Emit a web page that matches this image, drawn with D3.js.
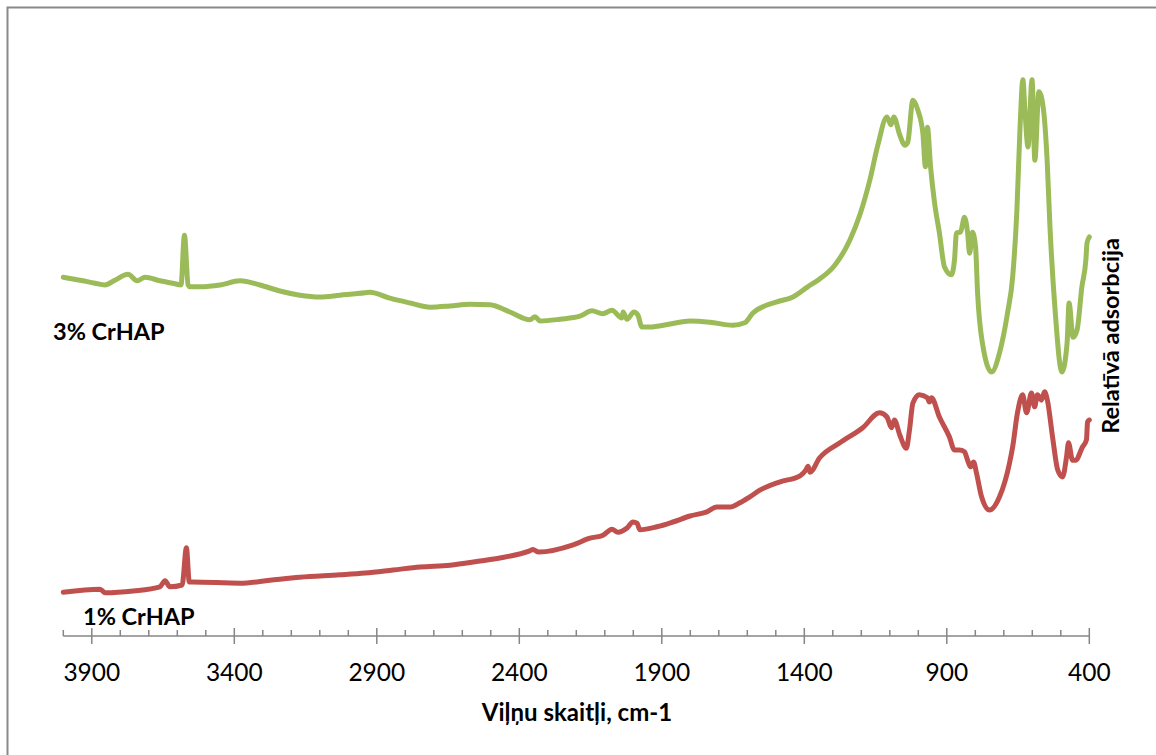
<!DOCTYPE html>
<html>
<head>
<meta charset="utf-8">
<script src="https://cdn.jsdelivr.net/npm/d3@7"></script>
<style>
  body { margin: 0; background: #fff; }
  svg { display: block; font-family: Lato, "Open Sans", sans-serif; }
</style>
</head>
<body>
<div id="app"></div>
<script>
// FTIR spectra, wavenumber (cm-1) vs relative absorbance (arbitrary units)
const wave3 = [4000, 3941, 3889, 3854, 3819, 3773, 3741, 3713, 3661, 3608, 3587, 3575, 3562, 3555, 3519,
  3450, 3380, 3310, 3240, 3170, 3099, 3029, 2941, 2924, 2854, 2783, 2713, 2643, 2573, 2503, 2433, 2363,
  2345, 2327, 2257, 2187, 2145, 2107, 2075, 2040, 2036, 2022, 1998, 1984, 1970, 1942, 1871, 1801, 1731,
  1651, 1609, 1581, 1496, 1440, 1388, 1346, 1293, 1240, 1205, 1170, 1142, 1110, 1096, 1086, 1065, 1047,
  1037, 1019, 1002, 984, 975, 968, 957, 943, 926, 908, 884, 873, 866, 852, 838, 827, 820, 810, 799, 792,
  775, 743, 715, 687, 669, 654, 643, 633, 626, 615, 601, 591, 577, 562, 548, 538, 520, 496, 478, 471, 457,
  443, 426, 412, 408, 400];
const abs3 = [59.8, 59.3, 58.8, 58.5, 59.3, 60.3, 59.2, 59.8, 59.2, 58.7, 58.5, 66.8, 58.5, 58.2, 58.2,
  58.5, 59.2, 58.5, 57.5, 56.8, 56.5, 56.8, 57.2, 57.3, 56.3, 55.5, 54.8, 55.0, 55.3, 55.2, 54.0, 52.7,
  53.2, 52.5, 52.8, 53.3, 54.2, 53.7, 54.3, 53.0, 54.0, 52.8, 54.0, 53.5, 51.5, 51.5, 52.0, 52.5, 52.3,
  51.8, 52.2, 53.8, 55.7, 56.5, 58.2, 59.5, 61.8, 66.0, 70.2, 76.0, 81.8, 86.5, 85.2, 86.5, 83.5, 81.8,
  82.3, 89.3, 87.7, 83.8, 78.2, 84.8, 78.2, 72.2, 67.2, 61.5, 60.2, 62.7, 67.2, 67.3, 69.8, 67.2, 63.8,
  67.3, 64.8, 57.2, 48.8, 44.0, 47.2, 53.8, 59.8, 71.0, 84.8, 92.7, 87.7, 81.5, 92.7, 79.3, 90.7, 88.2,
  79.3, 68.2, 54.3, 44.0, 48.8, 55.5, 49.8, 51.0, 58.2, 62.7, 65.5, 66.5];

const wave1 = [4000, 3871, 3853, 3755, 3661, 3643, 3626, 3583, 3568, 3558, 3548, 3380, 3275, 3170, 3029,
  2941, 2843, 2748, 2643, 2538, 2468, 2363, 2352, 2332, 2211, 2152, 2106, 2075, 2054, 2022, 2001, 1987,
  1977, 1917, 1861, 1801, 1742, 1707, 1661, 1626, 1591, 1556, 1485, 1415, 1394, 1387, 1380, 1346, 1275,
  1195, 1136, 1110, 1094, 1084, 1065, 1042, 1031, 1019, 996, 968, 961, 954, 926, 891, 873, 856, 838, 827,
  817, 806, 796, 778, 750, 715, 680, 669, 652, 634, 620, 603, 592, 582, 568, 557, 547, 529, 511, 494, 480,
  473, 459, 448, 424, 410, 406, 400];
const abs1 = [7.3, 7.8, 7.2, 7.5, 8.2, 9.2, 8.2, 8.5, 14.7, 9.0, 9.0, 8.8, 9.3, 9.8, 10.2,
  10.5, 11.0, 11.5, 11.8, 12.5, 13.0, 14.2, 14.4, 14.0, 15.2, 16.3, 16.8, 17.8, 17.3, 18.0, 19.0, 18.8,
  17.7, 18.2, 19.0, 20.0, 20.7, 21.5, 21.5, 22.2, 23.2, 24.3, 25.7, 26.7, 27.7, 28.3, 27.3, 29.7, 32.2,
  34.7, 37.2, 36.5, 34.7, 36.0, 33.5, 31.3, 34.3, 38.8, 40.2, 39.7, 39.0, 39.7, 36.5, 33.2, 31.0, 31.0,
  30.7, 29.3, 28.2, 29.0, 27.2, 23.2, 21.0, 23.2, 28.8, 31.5, 37.2, 40.2, 37.2, 40.5, 38.2, 40.2, 39.3,
  40.7, 39.3, 33.2, 27.7, 26.5, 29.8, 32.2, 29.3, 29.3, 31.5, 32.7, 35.7, 36.0];

const xTicks = [3900, 3400, 2900, 2400, 1900, 1400, 900, 400];
const series = [
  { name: "3% CrHAP", wave: wave3, abs: abs3, color: "#9bbb59" },
  { name: "1% CrHAP", wave: wave1, abs: abs1, color: "#c0504d" }
];

const width = 1156;
const height = 755;

const svg = d3.select("#app").append("svg")
  .attr("width", width)
  .attr("height", height);

// chart frame (only top and left edges are visible in the picture)
svg.append("path")
  .attr("d", `M7.5,${height} V7.5 H${width}`)
  .attr("fill", "none")
  .attr("stroke", "#898989")
  .attr("stroke-width", 2);

const xScale = d3.scaleLinear().domain([4000, 400]).range([63.3, 1089.3]);
const yScale = d3.scaleLinear().domain([0, 100]).range([636, 36]);
const axisY = yScale(0);

// x axis
const axis = svg.append("g").attr("transform", `translate(0,${axisY})`);
axis.append("line")
  .attr("x1", xScale(4000)).attr("x2", xScale(400))
  .attr("stroke", "#868686").attr("stroke-width", 1.5);
axis.selectAll(".minor")
  .data(d3.range(4000, 399, -100).filter((d) => !xTicks.includes(d)))
  .enter().append("line")
  .attr("x1", (d) => xScale(d)).attr("x2", (d) => xScale(d))
  .attr("y1", -6).attr("y2", 0)
  .attr("stroke", "#868686").attr("stroke-width", 1.5);
axis.selectAll(".major")
  .data(xTicks)
  .enter().append("line")
  .attr("x1", (d) => xScale(d)).attr("x2", (d) => xScale(d))
  .attr("y1", -8).attr("y2", 8)
  .attr("stroke", "#868686").attr("stroke-width", 1.5);
axis.selectAll("text")
  .data(xTicks)
  .enter().append("text")
  .attr("x", (d) => xScale(d))
  .attr("y", 45)
  .attr("text-anchor", "middle")
  .attr("font-size", 24.5)
  .attr("fill", "#000")
  .text((d) => d);

// spectra
const line = d3.line()
  .x((d) => xScale(d[0]))
  .y((d) => yScale(d[1]))
  .curve(d3.curveMonotoneX);

series.forEach((s) => {
  svg.append("path")
    .datum(d3.zip(s.wave, s.abs))
    .attr("d", line)
    .attr("fill", "none")
    .attr("stroke", s.color)
    .attr("stroke-width", 5)
    .attr("stroke-linejoin", "round")
    .attr("stroke-linecap", "round");
});

// series labels
svg.append("text")
  .attr("x", 53).attr("y", 340)
  .attr("font-size", 23.5).attr("font-weight", "bold")
  .text(series[0].name);
svg.append("text")
  .attr("x", 83).attr("y", 625)
  .attr("font-size", 23.5).attr("font-weight", "bold")
  .text(series[1].name);

// axis titles
svg.append("text")
  .attr("x", 577).attr("y", 721)
  .attr("text-anchor", "middle")
  .attr("font-size", 24).attr("font-weight", "bold")
  .text("Viļņu skaitļi, cm-1");

svg.append("text")
  .attr("transform", "translate(1119,336) rotate(-90)")
  .attr("text-anchor", "middle")
  .attr("font-size", 23.5).attr("font-weight", "bold")
  .text("Relatīvā adsorbcija");
</script>
</body>
</html>
